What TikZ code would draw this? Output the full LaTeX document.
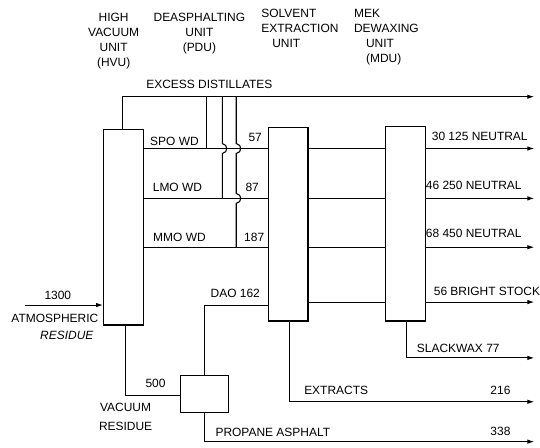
\documentclass[tikz,border=0pt]{standalone}
\usepackage{fontspec}
\setmainfont{Liberation Sans}
\usetikzlibrary{arrows.meta,positioning}

\begin{document}
\begin{tikzpicture}[
		x=1pt, y=-1pt,
		unit/.style={draw, line width=1.2pt, minimum width=40pt, inner sep=0pt},
		flow/.style={line width=1.1pt},
		outflow/.style={flow, -{Latex[length=7pt,width=4.5pt]}},
		lbl/.style={font=\fontsize{12}{15}\selectfont, inner sep=0pt},
		head/.style={lbl, anchor=north west, align=left}
	]
		% Page
		\fill[white] (0,0) rectangle (540,449);

		% Process units
		\node[unit, minimum height=196pt] (hvu) at (124,228) {};
		\node[unit, minimum height=194pt] (seu) at (289,225) {};
		\node[unit, minimum height=195pt] (mdu) at (406.5,224.5) {};
		\node[unit, minimum width=48pt, minimum height=37pt] (pdu) at (205,395.5) {};

		% Stream levels
		\coordinate (exc) at (0,97);
		\coordinate (spo) at (0,149);
		\coordinate (lmo) at (0,199);
		\coordinate (mmo) at (0,248);
		\coordinate (bst) at (0,303);
		\coordinate (feed) at (0,306);
		\coordinate (vac) at (0,397);
		\coordinate (slk) at (0,359);
		\coordinate (ext) at (0,403);
		\coordinate (asp) at (0,443);
		\coordinate (rim) at (536,0);
		\coordinate (feedin) at (25,306);
		\coordinate (d1) at (207,0);
		\coordinate (d2) at (223,0);
		\coordinate (d3) at (237,0);
		\coordinate (vr) at (126,0);
		\coordinate (xr) at (290,0);
		\coordinate (sw) at (408,0);

		% Unit headings
		\node[lbl, anchor=north, align=center] (hvulbl) at (114,13) {HIGH\\VACUUM\\UNIT\\(HVU)};
		\node[lbl, anchor=north, align=center] (pdulbl) at (200,13) {DEASPHALTING\\UNIT\\(PDU)};
		\node[head] (seulbl) at (262,9) {SOLVENT\\EXTRACTION\\\hspace*{11pt}UNIT};
		\node[head] (mdulbl) at (355,9) {MEK\\DEWAXING\\\hspace*{12pt}UNIT\\\hspace*{12pt}(MDU)};

		% Excess distillates
		\draw[outflow] (hvu.north -| 123,0) -- (123,97) -- (rim |- exc);
		\node[lbl] (excl) at (210,85) {EXCESS DISTILLATES};
		\draw[flow] (d1 |- exc) -- (d1 |- spo);
		\draw[flow] (d2 |- exc) -- (223,144) .. controls (229,145) and (229,153) .. (223,154) -- (d2 |- lmo);
		\draw[flow] (d3 |- exc) -- (237,144) .. controls (243,145) and (243,153) .. (237,154)
			-- (237,194) .. controls (243,195) and (243,203) .. (237,204) -- (d3 |- mmo);

		% Wax distillates HVU -> SEU -> MDU
		\foreach \lev in {spo,lmo,mmo} {
			\draw[flow] (hvu.east |- \lev) -- (seu.west |- \lev);
		}
		\foreach \lev in {spo,lmo,mmo,bst} {
			\draw[flow] (seu.east |- \lev) -- (mdu.west |- \lev);
			\draw[outflow] (mdu.east |- \lev) -- (rim |- \lev);
		}
		\node[lbl] (spol) at (175,142) {SPO WD};
		\node[lbl] (lmol) at (178,188) {LMO WD};
		\node[lbl] (mmol) at (180,238) {MMO WD};
		\node[lbl] (spov) at (256,138) {57};
		\node[lbl] (lmov) at (253,188) {87};
		\node[lbl] (mmov) at (255,238) {187};

		% Products
		\node[lbl, anchor=west] (n125) at (433,137) {30 125 NEUTRAL};
		\node[lbl, anchor=west] (n250) at (427,186) {46 250 NEUTRAL};
		\node[lbl, anchor=west] (n450) at (427,234) {68 450 NEUTRAL};
		\node[lbl, anchor=west] (bstl) at (435,292) {56 BRIGHT STOCK};
		\draw[outflow] (mdu.south -| sw) -- (sw |- slk) -- (rim |- slk);
		\node[lbl, anchor=west] (slkl) at (418,349) {SLACKWAX 77};
		\draw[outflow] (seu.south -| xr) -- (xr |- ext) -- (rim |- ext);
		\node[lbl, anchor=west] (extl) at (305,392) {EXTRACTS};
		\node[lbl] (extv) at (502,392) {216};
		\draw[outflow] (pdu.south) -- (pdu.south |- asp) -- (rim |- asp);
		\node[lbl, anchor=west] (aspl) at (216,434) {PROPANE ASPHALT};
		\node[lbl] (aspv) at (502,433) {338};

		% Feed and residue
		\draw[outflow] (feedin) -- (hvu.west |- feed);
		\node[lbl] (feedv) at (58,296) {1300};
		\node[lbl] (feedl) at (55,319) {ATMOSPHERIC};
		\node[lbl, font=\fontsize{12}{15}\selectfont\itshape] (feedr) at (67,336) {RESIDUE};
		\draw[flow] (hvu.south -| vr) -- (vr |- vac) -- (pdu.west |- vac);
		\node[lbl] (vacv) at (156,385) {500};
		\node[lbl] (vacl) at (126,409) {VACUUM};
		\node[lbl] (vacr) at (126,428) {RESIDUE};
		\draw[flow] (pdu.north) -- (pdu.north |- feed) -- (seu.west |- feed);
		\node[lbl] (daol) at (236,294) {DAO 162};
	\end{tikzpicture}
\end{document}
